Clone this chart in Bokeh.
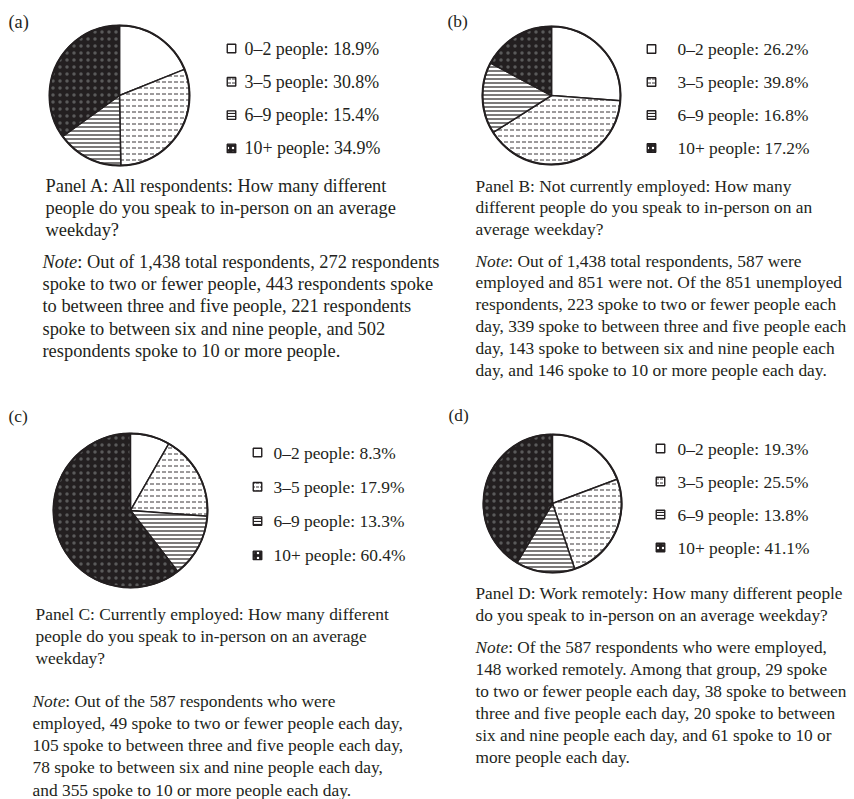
import numpy as np
from bokeh.plotting import figure
from bokeh.models import Range1d, ColumnDataSource
from bokeh.core.properties import value
from bokeh.embed import file_html
from bokeh.resources import INLINE

# ---------------- data ----------------
categories = ["0\u20132 people", "3\u20135 people", "6\u20139 people", "10+ people"]
share_a = [18.9, 30.8, 15.4, 34.9]
share_b = [26.2, 39.8, 16.8, 17.2]
share_c = [8.3, 17.9, 13.3, 60.4]
share_d = [19.3, 25.5, 13.8, 41.1]
panel_tags = ["(a)", "(b)", "(c)", "(d)"]

caption_a = ["Panel A: All respondents: How many different",
             "people do you speak to in-person on an average",
             "weekday?"]
note_a = [": Out of 1,438 total respondents, 272 respondents",
          "spoke to two or fewer people, 443 respondents spoke",
          "to between three and five people, 221 respondents",
          "spoke to between six and nine people, and 502",
          "respondents spoke to 10 or more people."]
caption_b = ["Panel B: Not currently employed: How many",
             "different people do you speak to in-person on an",
             "average weekday?"]
note_b = [": Out of 1,438 total respondents, 587 were",
          "employed and 851 were not. Of the 851 unemployed",
          "respondents, 223 spoke to two or fewer people each",
          "day, 339 spoke to between three and five  people each",
          "day, 143 spoke to between six and nine people each",
          "day, and 146 spoke to 10 or more people each day."]
caption_c = ["Panel C: Currently employed: How many different",
             "people do you speak to in-person on an average",
             "weekday?"]
note_c = [": Out of the 587 respondents who were",
          "employed, 49 spoke to two or fewer people each day,",
          "105 spoke to between three and five people each day,",
          "78 spoke to between six and nine people each day,",
          "and 355 spoke to 10 or more people each day."]
caption_d = ["Panel D: Work remotely: How many different people",
             "do you speak to in-person on an average weekday?"]
note_d = [": Of the 587 respondents who were employed,",
          "148 worked remotely. Among that group, 29 spoke",
          "to two or fewer people each day, 38 spoke to between",
          "three and five people each day, 20 spoke to between",
          "six and nine people each day, and 61 spoke to 10 or",
          "more people each day."]

# ---------------- styling / layout ----------------
W, H = 854, 799
FONT = value("Liberation Serif")
INK = "#231f20"

styles = [
    dict(fill_color="white"),
    dict(fill_color="white", hatch_pattern="horizontal_dash", hatch_color=INK, hatch_weight=0.9),
    dict(fill_color="white", hatch_pattern="horizontal_line", hatch_color=INK, hatch_weight=1.2),
    dict(fill_color=INK, hatch_pattern="dot", hatch_color="#5a5a5a", hatch_weight=0.1),
]
pie_scale = [None, 6, 4, 7]
leg_scale = [None, 4, 3, 5]

p = figure(width=W, height=H, output_backend="svg", toolbar_location=None,
           x_range=Range1d(0, W), y_range=Range1d(H, 0),
           x_axis_type=None, y_axis_type=None, min_border=0)
p.outline_line_color = None
p.background_fill_color = "white"
p.border_fill_color = "white"

panels = [
    dict(share=share_a, tag=(8, 21), pie=(119, 95, 70), leg=(231, 244, 48, 33.3, "17.9px"),
         size=18.4, lh=22.4, cap=caption_a, cap_xy=(45, 185), note=note_a, note_xy=(42, 261)),
    dict(share=share_b, tag=(447, 20), pie=(551, 95, 69), leg=(651, 677, 48.5, 33.0, "17.4px"),
         size=17.4, lh=21.8, cap=caption_b, cap_xy=(475, 185), note=note_b, note_xy=(475, 260)),
    dict(share=share_c, tag=(8, 415), pie=(130, 510, 77), leg=(257, 273, 452, 34.3, "17.4px"),
         size=17.4, lh=22.3, cap=caption_c, cap_xy=(35, 613), note=note_c, note_xy=(32, 700)),
    dict(share=share_d, tag=(448, 415), pie=(552, 503, 69), leg=(660, 677, 448, 33.0, "17.4px"),
         size=17.3, lh=22.0, cap=caption_d, cap_xy=(475, 593), note=note_d, note_xy=(475, 647)),
]

NOTE_EM = 1.889  # width of italic "Note" in em

for tag, pan in zip(panel_tags, panels):
    share = np.array(pan["share"]) / 100.0
    cum = np.concatenate([[0], np.cumsum(share)])
    start = np.pi / 2 - cum[:-1] * 2 * np.pi
    end = np.pi / 2 - cum[1:] * 2 * np.pi
    cx, cy, r = pan["pie"]
    for i in range(4):
        extra = {} if pie_scale[i] is None else dict(hatch_scale=pie_scale[i])
        p.wedge(x=cx, y=cy, radius=r, start_angle=start[i], end_angle=end[i],
                direction="clock", line_color=INK, line_width=1.5, **styles[i], **extra)
    p.scatter(x=[cx], y=[cy], marker="circle", size=2 * r, fill_color=None,
              line_color=INK, line_width=2)

    # legend
    sx, tx, y0, dy, lsize = pan["leg"]
    for i in range(4):
        yy = y0 + i * dy
        extra = {} if leg_scale[i] is None else dict(hatch_scale=leg_scale[i])
        st = dict(styles[i])
        if i == 3:
            st["hatch_color"] = "white"
        p.rect(x=sx, y=yy, width=8.5, height=8.5, line_color=INK, line_width=1.4,
               **st, **extra)
    leg_src = ColumnDataSource(dict(
        x=[tx] * 4, y=[y0 + i * dy for i in range(4)],
        t=["%s: %.1f%%" % (c, v) for c, v in zip(categories, pan["share"])]))
    p.text(x="x", y="y", text="t", source=leg_src, text_font=FONT,
           text_font_size=lsize, text_baseline="middle", text_color=INK)

    fs = "%.1fpx" % pan["size"]
    lh = pan["lh"]
    # tag
    p.text(x=[pan["tag"][0]], y=[pan["tag"][1]], text=[tag], text_font=FONT,
           text_font_size=fs, text_baseline="middle", text_color=INK)

    # caption
    cx0, cy0 = pan["cap_xy"]
    p.text(x=[cx0] * len(pan["cap"]), y=[cy0 + i * lh for i in range(len(pan["cap"]))],
           text=pan["cap"], text_font=FONT, text_font_size=fs,
           text_baseline="middle", text_color=INK)

    # note
    nx0, ny0 = pan["note_xy"]
    p.text(x=[nx0], y=[ny0], text=["Note"], text_font=FONT, text_font_size=fs,
           text_font_style="italic", text_baseline="middle", text_color=INK)
    xs = [nx0 + NOTE_EM * pan["size"]] + [nx0] * (len(pan["note"]) - 1)
    p.text(x=xs, y=[ny0 + i * lh for i in range(len(pan["note"]))],
           text=pan["note"], text_font=FONT, text_font_size=fs,
           text_baseline="middle", text_color=INK)

open("out.html", "w").write(file_html(p, INLINE))
